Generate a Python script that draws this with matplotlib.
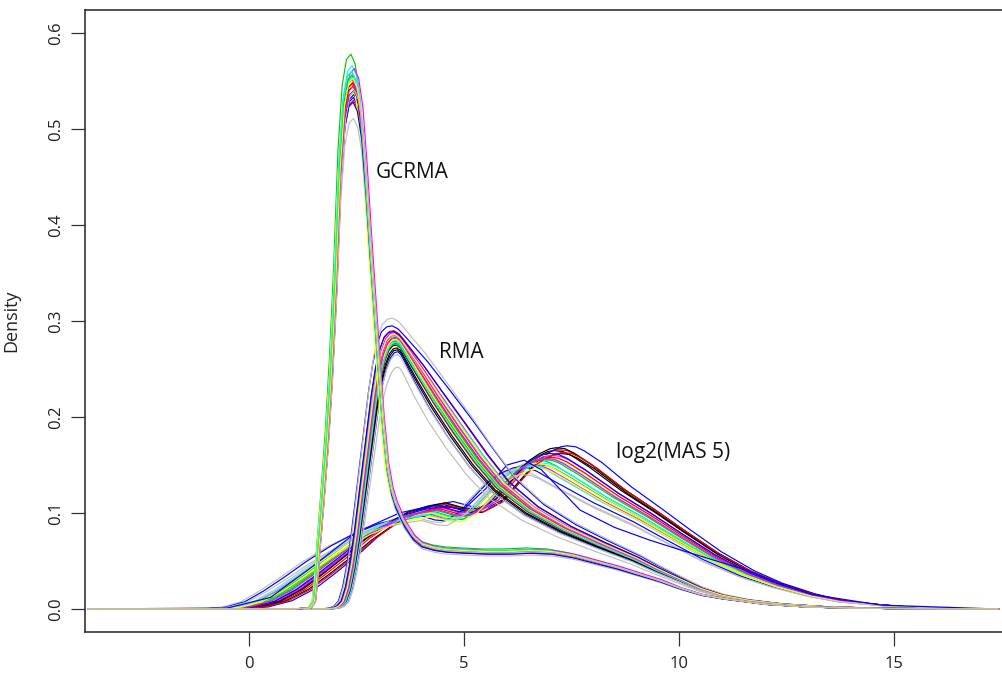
import numpy as np
import matplotlib
matplotlib.use("Agg")
import matplotlib.pyplot as plt

plt.rcParams["font.family"] = ["Open Sans", "DejaVu Sans"]

# R default palette, cycled over the arrays
palette = ["#000000", "#FF0000", "#00CD00", "#0000FF",
           "#00FFFF", "#FF00FF", "#FFFF00", "#BEBEBE"]

# GCRMA density profile (log2 expression vs density)
gc_x = [-3.75, 1.0, 1.4, 1.5, 1.55, 1.6, 1.7, 1.8, 1.9, 2.0, 2.1, 2.2, 2.3, 2.4,
        2.5, 2.6, 2.7, 2.8, 2.9, 3.0, 3.1, 3.2, 3.3, 3.4, 3.5, 3.6, 3.8, 4.0,
        4.3, 4.6, 5.0, 5.5, 6.0, 6.5, 7.0, 7.5, 8.0, 8.5, 9.0, 9.5, 10.0, 10.5,
        11.0, 11.5, 12.0, 13.0, 14.0, 15.0, 16.0, 17.4]
gc_y = [0.0, 0.0, 0.001, 0.008, 0.03, 0.06, 0.115, 0.175, 0.25, 0.343, 0.46,
        0.525, 0.55, 0.555, 0.545, 0.515, 0.455, 0.385, 0.32, 0.255, 0.195,
        0.15, 0.125, 0.11, 0.1, 0.09, 0.076, 0.068, 0.064, 0.062, 0.061, 0.06,
        0.06, 0.061, 0.06, 0.056, 0.05, 0.044, 0.037, 0.03, 0.022, 0.015,
        0.011, 0.008, 0.005, 0.002, 0.001, 0.0004, 0.0001, 0.0]
gc_w = [0.0] + [1.0] * 29 + [2.0] * 10 + [1.0] * 10
gc_peak = [0.545, 0.540, 0.578, 0.533, 0.566, 0.563, 0.550, 0.558,
           0.548, 0.530, 0.560, 0.536, 0.555, 0.552, 0.545, 0.511,
           0.540, 0.548, 0.556, 0.528, 0.560, 0.545, 0.553, 0.540]
gc_shift = [0.02, 0.04, -0.03, 0.03, 0.00, 0.05, -0.02, 0.01,
            0.01, 0.03, -0.01, 0.04, 0.02, 0.00, -0.03, 0.03,
            0.04, 0.01, 0.00, 0.02, -0.01, 0.03, 0.02, 0.05]

# RMA density profile
rma_x = [-3.75, 1.8, 2.0, 2.1, 2.2, 2.3, 2.4, 2.5, 2.6, 2.7, 2.8, 2.9, 3.0,
         3.1, 3.2, 3.3, 3.4, 3.5, 3.6, 3.8, 4.0, 4.4, 4.9, 5.4, 5.9, 6.6, 7.4,
         8.2, 9.0, 9.5, 10.0, 10.5, 11.0, 11.6, 12.4, 13.5, 15.0, 17.4]
rma_y = [0.0, 0.0, 0.001, 0.003, 0.008, 0.022, 0.045, 0.075, 0.11, 0.145,
         0.18, 0.215, 0.243, 0.262, 0.274, 0.279, 0.28, 0.277, 0.271, 0.258,
         0.245, 0.218, 0.186, 0.155, 0.128, 0.103, 0.083, 0.067, 0.052, 0.041,
         0.031, 0.021, 0.014, 0.009, 0.005, 0.002, 0.0005, 0.0]
# how far each sample's shift reaches along the curve; samples that rise
# early fall late, so the sign turns over on the right-hand side
rma_w = [0.0, 1.0, 1.0, 1.0, 1.0, 1.0, 1.0, 1.0, 1.0, 1.0, 1.0, 1.0, 1.0,
         1.0, 1.0, 0.8, 0.6, 0.3, 0.0, -0.6, -1.2, -2.0, -2.6, -2.8, -2.6,
         -2.2, -1.8, -1.4, -1.0, -0.8, -0.6, -0.5, -0.4, -0.3, -0.2, -0.1,
         0.0, 0.0]
rma_peak = [0.270, 0.282, 0.285, 0.295, 0.280, 0.288, 0.283, 0.303,
            0.275, 0.277, 0.279, 0.268, 0.284, 0.286, 0.281, 0.252,
            0.272, 0.290, 0.276, 0.289, 0.278, 0.283, 0.286, 0.265]
rma_shift = [0.08, 0.02, 0.00, -0.12, 0.03, -0.02, 0.00, -0.10,
             0.05, 0.06, 0.02, 0.10, -0.03, 0.01, 0.04, 0.12,
             0.07, -0.05, 0.03, -0.06, 0.05, 0.02, -0.01, 0.09]

# log2(MAS 5) density profile; the tails of all samples run together
mas_x = [-3.75, -1.0, -0.5, 0.0, 0.5, 1.0, 1.5, 2.0, 2.5, 3.0, 3.5, 4.0, 4.4,
         4.8, 5.1, 5.5, 6.0, 6.25, 6.5, 6.75, 6.9, 7.1, 7.3, 7.7, 8.1, 8.5,
         9.3, 10.0, 10.8, 11.6, 12.3, 13.1, 13.8, 14.7, 15.5, 16.5, 17.4]
mas_y = [0.0, 0.0, 0.0005, 0.002, 0.008, 0.02, 0.036, 0.053, 0.07, 0.084,
         0.095, 0.101, 0.104, 0.099, 0.098, 0.108, 0.133, 0.145, 0.152, 0.157,
         0.158, 0.157, 0.153, 0.142, 0.13, 0.118, 0.097, 0.077, 0.055, 0.037,
         0.025, 0.0145, 0.008, 0.004, 0.0015, 0.0004, 0.0]
mas_w = [0.0, 0.5, 0.7, 0.9, 1.0, 1.1, 1.1, 1.1, 1.0, 0.9, 0.8, 0.7, 0.7,
         0.8, 0.9, 1.0, 1.0, 1.0, 1.0, 1.0, 1.0, 1.0, 1.0, 1.0, 0.9, 0.8,
         0.6, 0.5, 0.4, 0.3, 0.2, 0.15, 0.1, 0.05, 0.0, 0.0, 0.0]
mas_peak = [0.165, 0.166, 0.155, 0.170, 0.152, 0.150, 0.160, 0.145,
            0.162, 0.158, 0.150, 0.148, 0.155, 0.160, 0.152, 0.150,
            0.168, 0.163, 0.156, 0.162, 0.149, 0.157, 0.146, 0.140]
mas_shift = [0.20, 0.30, -0.20, 0.50, -0.10, -0.30, 0.00, -0.70,
             0.35, 0.10, -0.15, -0.60, 0.05, 0.15, -0.25, -0.40,
             0.25, 0.40, -0.05, 0.10, -0.35, 0.00, -0.20, -0.55]

# one MAS 5 array with an early peak and a thinner right tail
mas_low_x = [-3.75, -0.5, 0.5, 1.5, 2.5, 3.5, 4.3, 5.0, 5.5, 6.0, 6.4, 6.8,
             7.7, 8.5, 9.3, 10.0, 10.8, 11.6, 12.3, 13.1, 14.7, 17.4]
mas_low_y = [0.0, 0.001, 0.012, 0.045, 0.08, 0.1, 0.108, 0.104, 0.125, 0.15,
             0.155, 0.145, 0.103, 0.085, 0.072, 0.062, 0.051, 0.04, 0.027,
             0.015, 0.004, 0.0]

fig = plt.figure(figsize=(10.02, 6.73), dpi=100)
ax = fig.add_axes([85 / 1002, 41 / 673, 950 / 1002, 622 / 673])


def draw_group(xs, ys, ws, peaks, shifts):
    xs = np.array(xs)
    ys = np.array(ys)
    ws = np.array(ws)
    for i, (pk, dx) in enumerate(zip(peaks, shifts)):
        ax.plot(xs + dx * ws, ys * pk / ys.max(), color=palette[i % 8],
                linewidth=0.85, solid_joinstyle="round")


draw_group(mas_x, mas_y, mas_w, mas_peak, mas_shift)
ax.plot(mas_low_x, mas_low_y, color="#0000FF", linewidth=0.85)
draw_group(rma_x, rma_y, rma_w, rma_peak, rma_shift)
draw_group(gc_x, gc_y, gc_w, gc_peak, gc_shift)

ax.set_xlim(-3.814, 18.28)
ax.set_ylim(-0.024, 0.624)

ax.set_xticks([0, 5, 10, 15])
ax.set_yticks([0.0, 0.1, 0.2, 0.3, 0.4, 0.5, 0.6])
ax.set_yticklabels(["0.0", "0.1", "0.2", "0.3", "0.4", "0.5", "0.6"],
                   rotation=90, va="center")
ax.tick_params(axis="both", direction="out", length=10, width=0.9,
               color="#333333", labelsize=12, labelcolor="#222222", pad=7)
ax.tick_params(axis="y", pad=5)
for s in ax.spines.values():
    s.set_linewidth(1.2)
    s.set_color("#333333")

ax.set_ylabel("Density", fontsize=13, color="#222222", labelpad=20)

ax.text(2.95, 0.455, "GCRMA", fontsize=15, va="center", color="#111111")
ax.text(4.42, 0.267, "RMA", fontsize=15, va="center", color="#111111")
ax.text(8.53, 0.163, "log2(MAS 5)", fontsize=15, va="center", color="#111111")

fig.savefig("out.png", dpi=100)
